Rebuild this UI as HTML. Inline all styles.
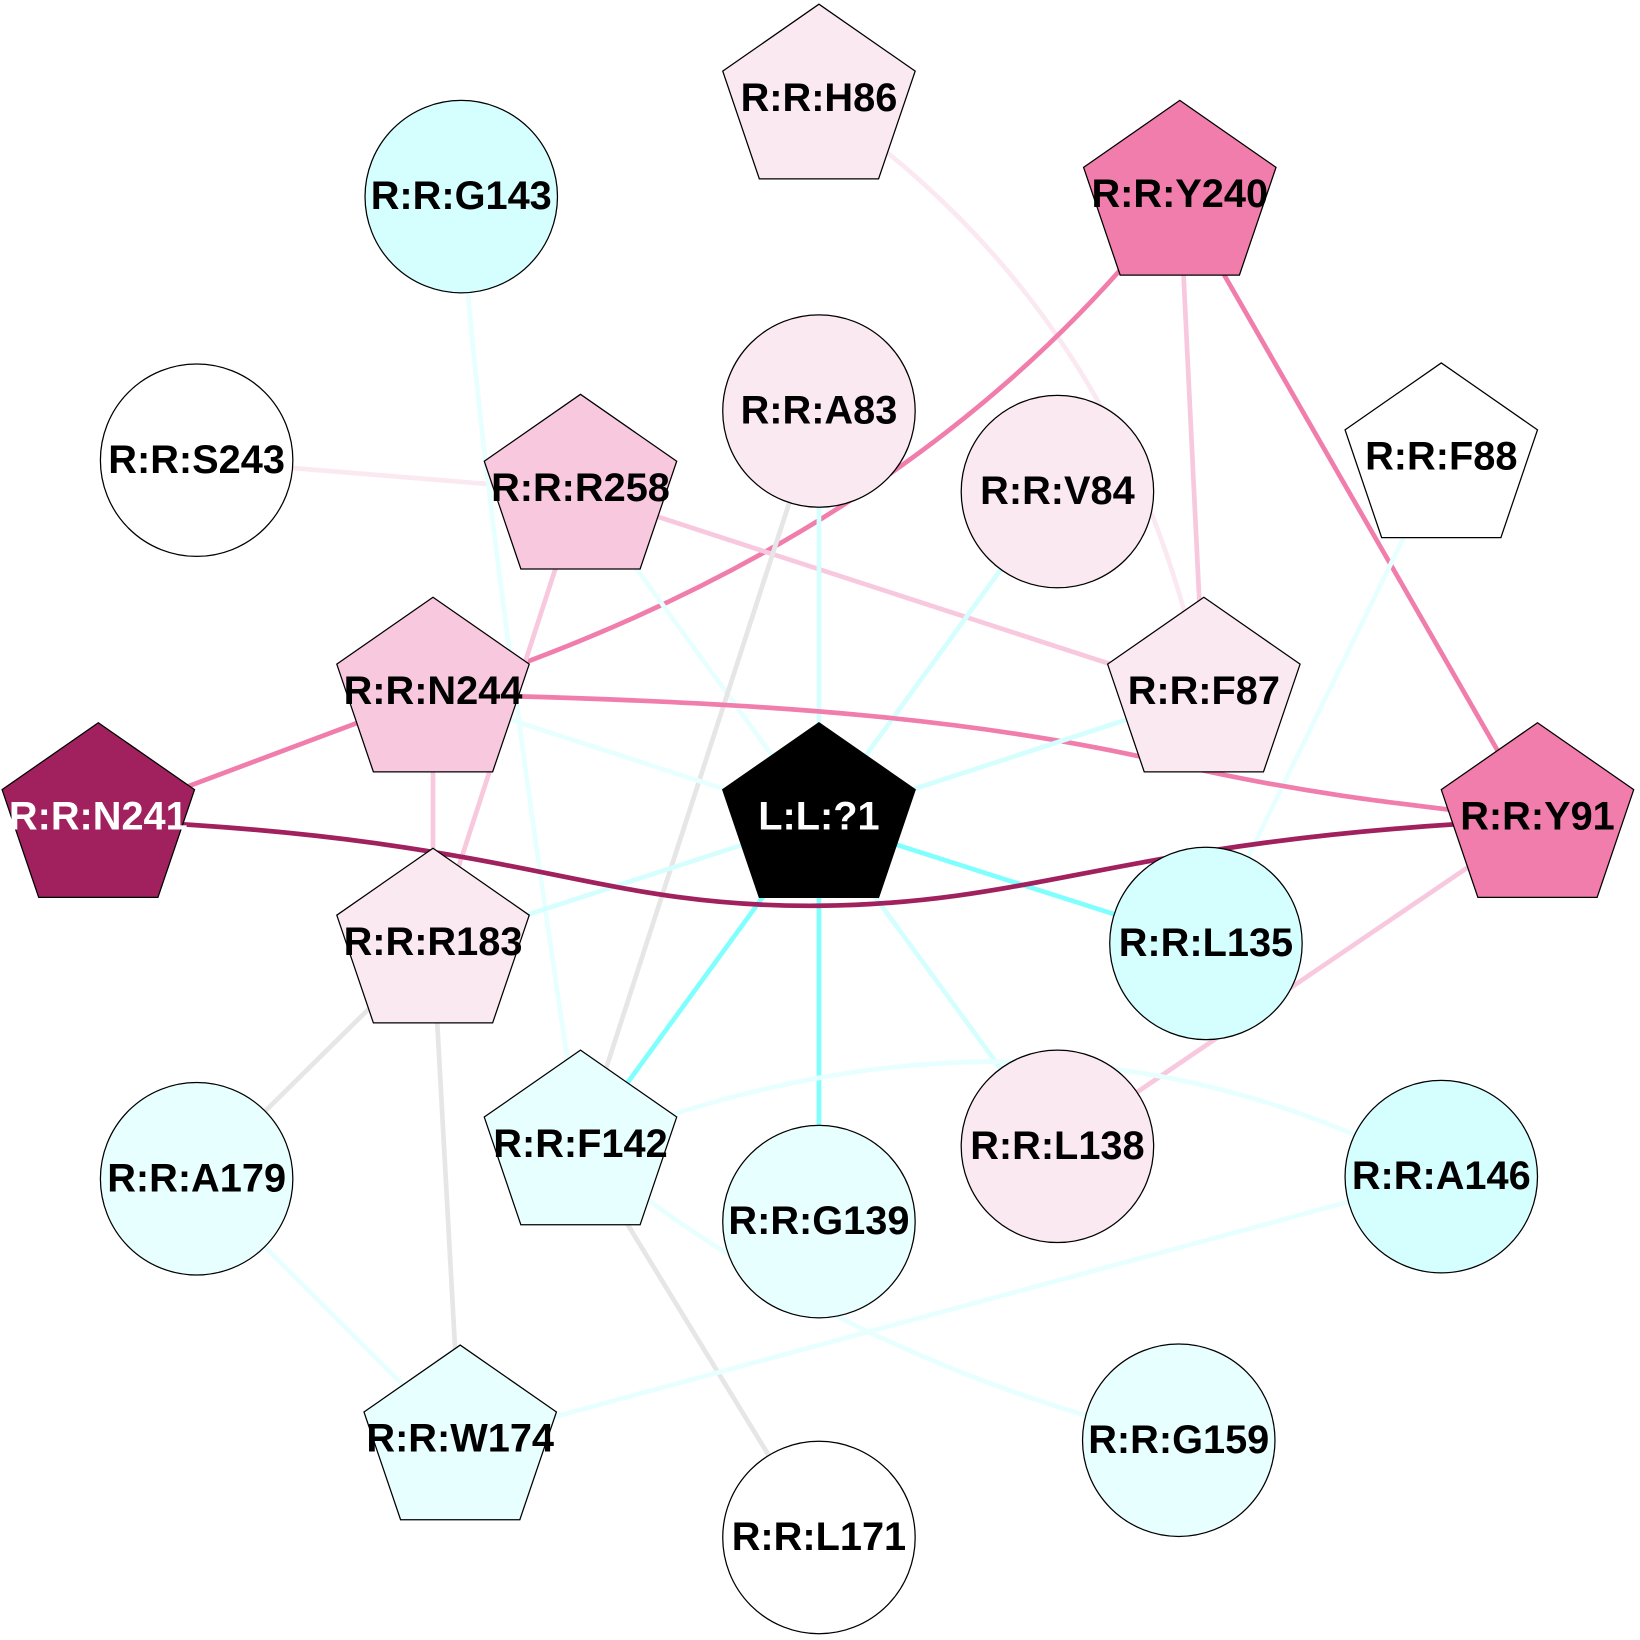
<!DOCTYPE html>
<html><head><meta charset="utf-8"><style>html,body{margin:0;padding:0;background:#fff}svg{display:block}</style></head>
<body>
<svg width="1640" height="1640" viewBox="0 0 1568 1568" xmlns="http://www.w3.org/2000/svg">
<defs>
<polygon id="pent" points="0,-93 92,-29 57,74 -57,74 -92,-29"/>
</defs>
<g fill="none" stroke-width="4.5" stroke-linecap="round">
<path d="M783,97 Q1080,300 1151,664" stroke="#fbe9f2"/>
<path d="M1128,189 L1151,664" stroke="#f8c8de"/>
<path d="M1128,189 Q880,514 414,664" stroke="#f07dab"/>
<path d="M1128,189 L1470,784" stroke="#f07dab"/>
<path d="M188,440 L555,470" stroke="#fbe9f2"/>
<path d="M555,470 L1151,664" stroke="#f8c8de"/>
<path d="M555,470 L414,904" stroke="#f8c8de"/>
<path d="M555,470 L783,784" stroke="#e8ffff"/>
<path d="M441,188 Q450,400 555,1097" stroke="#e8ffff"/>
<path d="M783,393 L783,784" stroke="#d5ffff"/>
<path d="M783,393 L555,1097" stroke="#e6e6e6"/>
<path d="M1011,470 L783,784" stroke="#d5ffff"/>
<path d="M1378,440 L1153,902" stroke="#e8ffff"/>
<path d="M414,664 L94,784" stroke="#f07dab"/>
<path d="M414,664 C750,670 950,690 1120,730 C1250,760 1350,770 1470,784" stroke="#f07dab"/>
<path d="M414,664 L414,904" stroke="#f8c8de"/>
<path d="M414,664 L783,784" stroke="#e8ffff"/>
<path d="M1151,664 L783,784" stroke="#d5ffff"/>
<path d="M783,784 L1153,902" stroke="#80ffff"/>
<path d="M783,784 L555,1097" stroke="#80ffff"/>
<path d="M783,784 L783,1168" stroke="#80ffff"/>
<path d="M783,784 L1011,1096" stroke="#d5ffff"/>
<path d="M783,784 L414,904" stroke="#d5ffff"/>
<path d="M1470,784 L1011,1096" stroke="#f8c8de"/>
<path d="M414,904 L188,1127" stroke="#e6e6e6"/>
<path d="M414,904 L440,1379" stroke="#e6e6e6"/>
<path d="M555,1097 Q1000,920 1378,1125" stroke="#e8ffff"/>
<path d="M555,1097 Q800,1300 1127,1377" stroke="#e8ffff"/>
<path d="M555,1097 L783,1470" stroke="#e6e6e6"/>
<path d="M188,1127 L440,1379" stroke="#e8ffff"/>
<path d="M1378,1125 L440,1379" stroke="#e8ffff"/>
<path d="M94,784 C500,800 560,868 783,866 C1000,864 1080,800 1470,784" stroke="#a0215e"/>
</g>
<g stroke="#000" stroke-width="1.2">
<circle cx="441" cy="188" r="92" fill="#d5ffff"/>
<circle cx="188" cy="440" r="92" fill="#fff"/>
<circle cx="783" cy="393" r="92" fill="#fbe9f2"/>
<circle cx="1011" cy="470" r="92" fill="#fbe9f2"/>
<circle cx="1153" cy="902" r="92" fill="#d5ffff"/>
<circle cx="1011" cy="1096" r="92" fill="#fbe9f2"/>
<circle cx="783" cy="1168" r="92" fill="#e8ffff"/>
<circle cx="188" cy="1127" r="92" fill="#e8ffff"/>
<circle cx="1378" cy="1125" r="92" fill="#d5ffff"/>
<circle cx="1127" cy="1377" r="92" fill="#e8ffff"/>
<circle cx="783" cy="1470" r="92" fill="#fff"/>
<use href="#pent" x="783" y="97" fill="#fbe9f2"/>
<use href="#pent" x="1128" y="189" fill="#f07dab"/>
<use href="#pent" x="555" y="470" fill="#f8c8de"/>
<use href="#pent" x="1378" y="440" fill="#fff"/>
<use href="#pent" x="414" y="664" fill="#f8c8de"/>
<use href="#pent" x="1151" y="664" fill="#fbe9f2"/>
<use href="#pent" x="94" y="784" fill="#a0215e"/>
<use href="#pent" x="783" y="784" fill="#000"/>
<use href="#pent" x="1470" y="784" fill="#f07dab"/>
<use href="#pent" x="414" y="904" fill="#fbe9f2"/>
<use href="#pent" x="555" y="1097" fill="#e8ffff"/>
<use href="#pent" x="440" y="1379" fill="#e8ffff"/>
</g>
<g font-family="Liberation Sans, Arial, sans-serif" font-weight="bold" font-size="38" text-anchor="middle" fill="#000">
<text x="441" y="200">R:R:G143</text>
<text x="188" y="452">R:R:S243</text>
<text x="783" y="405">R:R:A83</text>
<text x="1011" y="482">R:R:V84</text>
<text x="1153" y="914">R:R:L135</text>
<text x="1011" y="1108">R:R:L138</text>
<text x="783" y="1180">R:R:G139</text>
<text x="188" y="1139">R:R:A179</text>
<text x="1378" y="1137">R:R:A146</text>
<text x="1127" y="1389">R:R:G159</text>
<text x="783" y="1482">R:R:L171</text>
<text x="783" y="106">R:R:H86</text>
<text x="1128" y="198">R:R:Y240</text>
<text x="555" y="479">R:R:R258</text>
<text x="1378" y="449">R:R:F88</text>
<text x="414" y="673">R:R:N244</text>
<text x="1151" y="673">R:R:F87</text>
<text x="94" y="793" fill="#fff">R:R:N241</text>
<text x="783" y="793" fill="#fff">L:L:?1</text>
<text x="1470" y="793">R:R:Y91</text>
<text x="414" y="913">R:R:R183</text>
<text x="555" y="1106">R:R:F142</text>
<text x="440" y="1388">R:R:W174</text>
</g>
</svg>
</body></html>
